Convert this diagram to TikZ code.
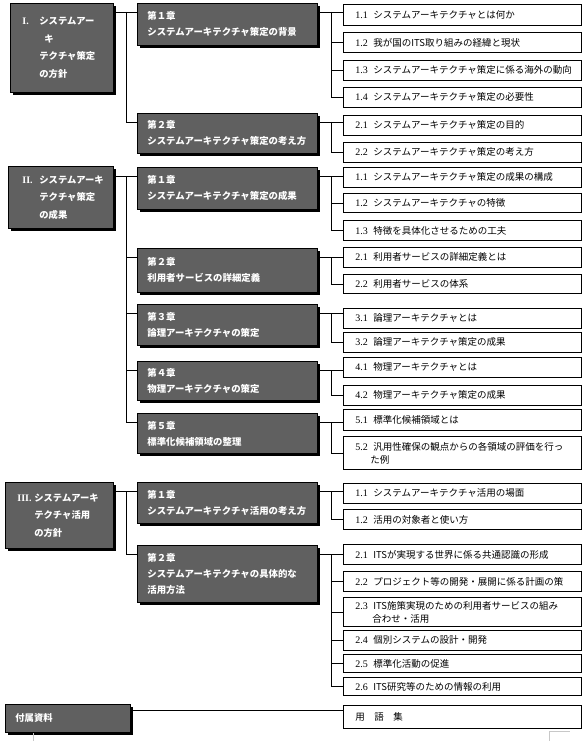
\documentclass[tikz,border=0pt]{standalone}
\usepackage{fontspec}
\setmainfont{Liberation Serif}
\newfontfamily\jp{Noto Sans CJK JP}
\usetikzlibrary{shadows,calc}
\definecolor{boxgray}{RGB}{96,96,96}
\definecolor{markgray}{RGB}{200,200,200}
\newcommand{\nb}[1]{\makebox[18pt][l]{\rmfamily\fontsize{10}{13}\selectfont #1}}
\newcommand{\rn}[1]{\makebox[17pt][l]{\rmfamily\bfseries\fontsize{10}{17.5}\selectfont #1.}}
\newcommand{\ind}{\hspace*{17pt}}
\begin{document}
\begin{tikzpicture}[x=1pt,y=-1pt,
  conn/.style={draw=black,line width=0.8pt},
  sec/.style={draw=black,line width=0.8pt,fill=boxgray,text=white,anchor=north west,align=left,
    font=\jp\bfseries\fontsize{9.3}{17.5}\selectfont,inner ysep=0pt,
    drop shadow={shadow xshift=3pt,shadow yshift=-3pt,opacity=1,fill=black}},
  chap/.style={draw=black,line width=0.8pt,fill=boxgray,text=white,anchor=north west,align=left,
    font=\jp\bfseries\fontsize{9.4}{16}\selectfont,inner xsep=10pt,inner ysep=0pt,
    minimum width=180pt,text width=160pt,
    drop shadow={shadow xshift=3pt,shadow yshift=-3pt,opacity=1,fill=black}},
  item/.style={draw=black,line width=0.8pt,fill=white,anchor=north west,align=left,
    font=\jp\fontsize{9.5}{13}\selectfont,inner xsep=12pt,inner ysep=0pt,
    minimum width=238pt,text width=214pt},
  ht/.style={minimum height=#1}
]
\useasboundingbox (0,0) rectangle (587,741);

% ---- level 1 ----
\node[sec,inner xsep=12pt,minimum width=103pt,text width=79pt,ht=89pt] (L1) at (10,3)
  {\rn{I}システムアー\\\ind\hspace*{5pt}キ\\\ind テクチャ策定\\\ind の方針};
\node[sec,inner xsep=14pt,minimum width=105pt,text width=77pt,ht=62pt] (L2) at (8,166)
  {\rn{II}システムアーキ\\\ind テクチャ策定\\\ind の成果};
\node[sec,inner xsep=12pt,minimum width=108pt,text width=84pt,ht=66pt] (L3) at (5,482)
  {\rn{III}システムアーキ\\\ind テクチャ活用\\\ind の方針};
\node[sec,inner xsep=10pt,minimum width=125pt,text width=105pt,ht=28pt] (L4) at (5,704)
  {付属資料};

% ---- level 2 ----
\node[chap,ht=42pt] (C11) at (137,3)   {第１章\\システムアーキテクチャ策定の背景};
\node[chap,ht=40pt] (C12) at (137,113) {第２章\\システムアーキテクチャ策定の考え方};
\node[chap,ht=42pt] (C21) at (137,167) {第１章\\システムアーキテクチャ策定の成果};
\node[chap,ht=44pt] (C22) at (137,248) {第２章\\利用者サービスの詳細定義};
\node[chap,ht=41pt] (C23) at (137,304) {第３章\\論理アーキテクチャの策定};
\node[chap,ht=39pt] (C24) at (137,361) {第４章\\物理アーキテクチャの策定};
\node[chap,ht=40pt] (C25) at (137,413) {第５章\\標準化候補領域の整理};
\node[chap,ht=41pt] (C31) at (137,482) {第１章\\システムアーキテクチャ活用の考え方};
\node[chap,ht=57pt] (C32) at (137,545) {第２章\\システムアーキテクチャの具体的な\\活用方法};

% ---- level 3 ----
\node[item,ht=21pt] (A11) at (343,4)   {\nb{1.1}システムアーキテクチャとは何か};
\node[item,ht=20pt] (A12) at (343,32)  {\nb{1.2}我が国のITS取り組みの経緯と現状};
\node[item,ht=20pt] (A13) at (343,60)  {\nb{1.3}システムアーキテクチャ策定に係る海外の動向};
\node[item,ht=20pt] (A14) at (343,87)  {\nb{1.4}システムアーキテクチャ策定の必要性};
\node[item,ht=20pt] (A21) at (343,115) {\nb{2.1}システムアーキテクチャ策定の目的};
\node[item,ht=20pt] (A22) at (343,142) {\nb{2.2}システムアーキテクチャ策定の考え方};

\node[item,ht=20pt] (B11) at (343,167) {\nb{1.1}システムアーキテクチャ策定の成果の構成};
\node[item,ht=19pt] (B12) at (343,193) {\nb{1.2}システムアーキテクチャの特徴};
\node[item,ht=20pt] (B13) at (343,220) {\nb{1.3}特徴を具体化させるための工夫};
\node[item,ht=20pt] (B21) at (343,247) {\nb{2.1}利用者サービスの詳細定義とは};
\node[item,ht=19pt] (B22) at (343,274) {\nb{2.2}利用者サービスの体系};
\node[item,ht=20pt] (B31) at (343,308) {\nb{3.1}論理アーキテクチャとは};
\node[item,ht=20pt] (B32) at (343,332) {\nb{3.2}論理アーキテクチャ策定の成果};
\node[item,ht=20pt] (B41) at (343,357) {\nb{4.1}物理アーキテクチャとは};
\node[item,ht=20pt] (B42) at (343,385) {\nb{4.2}物理アーキテクチャ策定の成果};
\node[item,ht=21pt] (B51) at (343,409) {\nb{5.1}標準化候補領域とは};
\node[item,ht=33pt] (B52) at (343,436) {\nb{5.2}汎用性確保の観点からの各領域の評価を行っ\\\hspace*{15pt}た例};

\node[item,ht=20pt] (D11) at (343,483) {\nb{1.1}システムアーキテクチャ活用の場面};
\node[item,ht=20pt] (D12) at (343,509) {\nb{1.2}活用の対象者と使い方};
\node[item,ht=20pt] (D21) at (343,544) {\nb{2.1}ITSが実現する世界に係る共通認識の形成};
\node[item,ht=20pt] (D22) at (343,571) {\nb{2.2}プロジェクト等の開発・展開に係る計画の策};
\node[item,ht=29pt] (D23) at (343,597) {\nb{2.3}ITS施策実現のための利用者サービスの組み\\\hspace*{17pt}合わせ・活用};
\node[item,ht=20pt] (D24) at (343,630) {\nb{2.4}個別システムの設計・開発};
\node[item,ht=18pt] (D25) at (343,654) {\nb{2.5}標準化活動の促進};
\node[item,ht=18pt] (D26) at (343,677) {\nb{2.6}ITS研究等のための情報の利用};
\node[item,ht=23pt] (G1)  at (343,705) {用\hspace{1em}語\hspace{1em}集};

% ---- trunks ----
\coordinate (tA) at (126,0);
\coordinate (tB) at (331,0);
\foreach \c in {C11,C12,C21,C22,C23,C24,C25,C31,C32}
  \coordinate (k\c) at ($(\c.north west)+(0,9)$);
\foreach \c in {C11,C12,C21,C22,C23,C24,C25,C31,C32}
  \coordinate (e\c) at ($(\c.north east)+(0,9)$);
\coordinate (f1) at ($(L4.north east)+(0,6)$);

% level 1 -> level 2
\draw[conn] (L1.east |- kC11) -- (kC11) (tA |- kC11) |- (kC12);
\draw[conn] (L2.east |- kC21) -- (kC21) (tA |- kC21) |- (kC25)
  (tA |- kC22) -- (kC22) (tA |- kC23) -- (kC23) (tA |- kC24) -- (kC24);
\draw[conn] (L3.east |- kC31) -- (kC31) (tA |- kC31) |- (kC32);
\draw[conn] (f1) -- (f1 -| G1.west);

% level 2 -> level 3
\draw[conn] (eC11) -- (eC11 -| A11.west) (tB |- eC11) |- (A14.west)
  (tB |- A12.west) -- (A12.west) (tB |- A13.west) -- (A13.west);
\draw[conn] (eC12) -- (eC12 -| A21.west) (tB |- eC12) |- (A22.west);
\draw[conn] (eC21) -- (eC21 -| B11.west) (tB |- eC21) |- (B13.west)
  (tB |- B12.west) -- (B12.west);
\draw[conn] (eC22) -- (eC22 -| B21.west) (tB |- eC22) |- (B22.west);
\draw[conn] (eC23) -- (eC23 -| B31.west) (tB |- eC23) |- (B32.west);
\draw[conn] (eC24) -- (eC24 -| B41.west) (tB |- eC24) |- (B42.west);
\draw[conn] (eC25) -- (eC25 -| B51.west) (tB |- eC25) |- (B52.west);
\draw[conn] (eC31) -- (eC31 -| D11.west) (tB |- eC31) |- (D12.west);
\draw[conn] (eC32) -- (eC32 -| D21.west) (tB |- eC32) |- (D26.west)
  (tB |- D22.west) -- (D22.west) (tB |- D23.west) -- (D23.west)
  (tB |- D24.west) -- (D24.west) (tB |- D25.west) -- (D25.west);

% page marks
\draw[markgray,line width=0.8pt] (33,733) -- (33,741);
\draw[markgray,line width=0.8pt] (549,741) -- (549,731) -- (570,731);
\end{tikzpicture}
\end{document}
